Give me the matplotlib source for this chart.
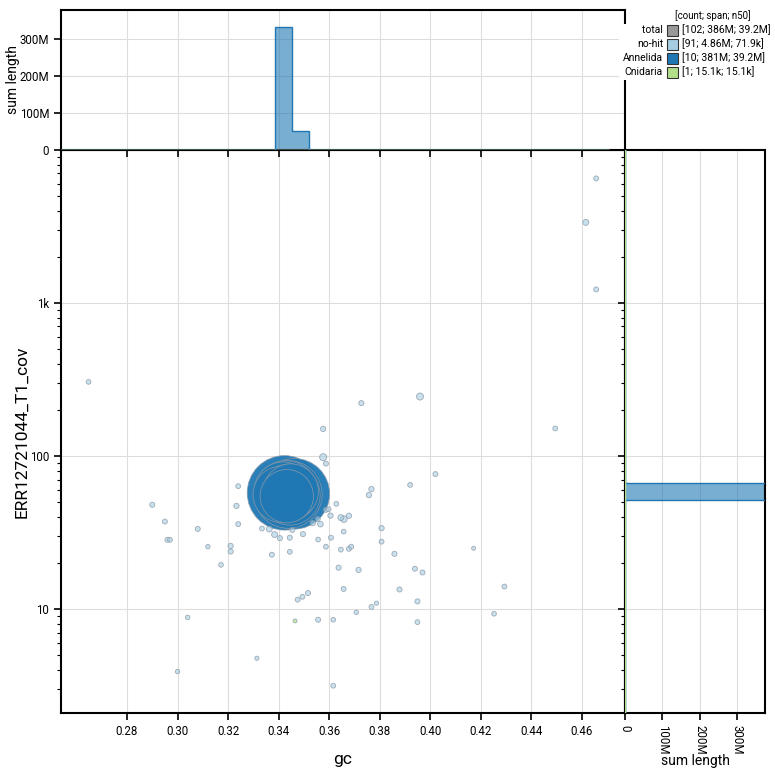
import numpy as np
import matplotlib.pyplot as plt
from matplotlib.ticker import FuncFormatter, LogLocator, NullFormatter
from matplotlib.patches import Rectangle
from matplotlib.colors import to_rgba

plt.rcParams['font.family'] = ['Roboto', 'DejaVu Sans']

# no-hit records: gc, coverage, length (bp)
nohit_gc = [0.2648, 0.2900, 0.2950, 0.2960, 0.2970, 0.3080, 0.3120, 0.3210, 0.3210,
            0.3240, 0.3233, 0.3240, 0.3373, 0.3444, 0.3172, 0.3475, 0.3494, 0.3516,
            0.3040, 0.3314, 0.3000, 0.3959, 0.3727, 0.3576, 0.3576, 0.3587, 0.4020,
            0.3920, 0.3767, 0.3757, 0.3628, 0.3587, 0.3597, 0.3605, 0.3555, 0.3646,
            0.3658, 0.3678, 0.3535, 0.3565, 0.3496, 0.3556, 0.3607, 0.3657, 0.3807,
            0.3807, 0.3587, 0.3646, 0.3678, 0.3687, 0.3858, 0.4171, 0.3637, 0.3716,
            0.3657, 0.3939, 0.3969, 0.3878, 0.3949, 0.4293, 0.4252, 0.3767, 0.3787,
            0.3707, 0.3556, 0.3616, 0.3949, 0.3616, 0.4494, 0.4656, 0.4615, 0.4656,
            0.3334, 0.3363, 0.3384, 0.3454, 0.3405, 0.3444]
nohit_cov = [304, 47.9, 37.2, 28.3, 28.3, 33.3, 25.5, 25.8, 23.7,
             63.4, 47.1, 35.8, 22.6, 23.6, 19.4, 11.5, 12.0, 12.7,
             8.8, 4.76, 3.9, 244, 221, 150, 98, 89, 76,
             64.6, 60.6, 55.4, 48.6, 44.4, 44.8, 40.7, 38.7, 39.5,
             38.6, 40.6, 36.4, 35.8, 30.8, 28.4, 29.2, 32.0, 33.7,
             27.5, 25.5, 24.4, 24.7, 25.5, 22.9, 24.9, 18.6, 18.0,
             13.5, 18.3, 17.3, 13.4, 11.2, 14.0, 9.3, 10.3, 10.9,
             9.5, 8.5, 8.5, 8.2, 3.15, 151, 6490, 3350, 1222,
             33.5, 33.2, 30.6, 32.8, 29.0, 29.2]
nohit_len = [40e3, 60e3, 50e3, 55e3, 45e3, 55e3, 30e3, 70e3, 60e3,
             45e3, 70e3, 50e3, 55e3, 45e3, 40e3, 50e3, 45e3, 60e3,
             35e3, 20e3, 30e3, 200e3, 60e3, 70e3, 200e3, 55e3, 50e3,
             45e3, 70e3, 70e3, 45e3, 55e3, 50e3, 70e3, 45e3, 110e3,
             160e3, 70e3, 70e3, 90e3, 60e3, 40e3, 50e3, 40e3, 70e3,
             50e3, 45e3, 45e3, 50e3, 50e3, 60e3, 15e3, 60e3, 70e3,
             50e3, 50e3, 55e3, 60e3, 60e3, 50e3, 40e3, 50e3, 20e3,
             30e3, 55e3, 40e3, 45e3, 45e3, 45e3, 50e3, 110e3, 50e3,
             45e3, 100e3, 110e3, 50e3, 60e3, 60e3]

# Annelida records
ann_gc = [0.3423, 0.3462, 0.3438, 0.3430, 0.3445, 0.3418, 0.3440, 0.3410, 0.3448, 0.3432]
ann_cov = [57.3, 56.5, 56.0, 58.0, 55.5, 59.0, 57.5, 56.0, 58.5, 54.5]
ann_len = [56.0e6, 50.0e6, 46.0e6, 39.2e6, 36.0e6, 33.0e6, 32.0e6, 31.0e6, 30.0e6, 27.8e6]

# Cnidaria record
cni_gc = [0.3465]
cni_cov = [8.35]
cni_len = [15.1e3]

legend_names = ['total', 'no-hit', 'Annelida', 'Cnidaria']
legend_stats = ['[102; 386M; 39.2M]', '[91; 4.86M; 71.9k]', '[10; 381M; 39.2M]', '[1; 15.1k; 15.1k]']
legend_colors = ['#999999', '#a6cee3', '#1f78b4', '#b2df8a']

groups = [
    ('no-hit', nohit_gc, nohit_cov, nohit_len, '#a6cee3', 0.6),
    ('Annelida', ann_gc, ann_cov, ann_len, '#1f78b4', 0.95),
    ('Cnidaria', cni_gc, cni_cov, cni_len, '#b2df8a', 0.7),
]


def marker_area(length):
    d = 0.0069 * np.sqrt(length) + 2.0
    return d ** 2


def fmt_len(v, pos):
    if v == 0:
        return '0'
    return '%dM' % round(v / 1e6)


def fmt_cov(v, pos):
    if v >= 1000:
        return '%dk' % round(v / 1000)
    if v in (10, 100):
        return '%d' % v
    return ''


fig = plt.figure(figsize=(7.75, 7.75), dpi=100)
L, R, B, T = 61 / 775, 625 / 775, 62 / 775, 625 / 775
TOP, RIGHT = 765 / 775, 765 / 775
ax = fig.add_axes([L, B, R - L, T - B])
axt = fig.add_axes([L, T, R - L, TOP - T], sharex=ax)
axr = fig.add_axes([R, B, RIGHT - R, T - B], sharey=ax)

# scatter, largest drawn first
all_gc, all_cov, all_len, all_col = [], [], [], []
for name, g, c, l, col, a in groups:
    all_gc += g
    all_cov += c
    all_len += l
    all_col += [to_rgba(col, a)] * len(g)
order = np.argsort(all_len)[::-1]
gc_arr = np.array(all_gc)[order]
cov_arr = np.array(all_cov)[order]
len_arr = np.array(all_len)[order]
col_arr = np.array(all_col)[order]
ax.scatter(gc_arr, cov_arr, s=marker_area(len_arr), c=col_arr,
           edgecolors=(0.55, 0.6, 0.65, 0.8), linewidths=0.6, zorder=3)

ax.set_yscale('log')
ax.set_xlim(0.2539, 0.477)
ax.set_ylim(2.09, 9950)
ax.set_xticks(np.arange(0.28, 0.47, 0.02))
ax.xaxis.set_major_formatter(FuncFormatter(lambda v, p: '%.2f' % v))
ax.yaxis.set_major_locator(LogLocator(base=10, numticks=10))
ax.yaxis.set_minor_locator(LogLocator(base=10, subs=np.arange(2, 10), numticks=10))
ax.yaxis.set_major_formatter(FuncFormatter(fmt_cov))
ax.yaxis.set_minor_formatter(NullFormatter())
ax.grid(True, which='major', color='#dddddd', linewidth=0.8)
ax.set_axisbelow(True)
ax.set_xlabel('gc', fontsize=12.5, labelpad=10)
ax.set_ylabel('ERR12721044_T1_cov', fontsize=12.5, labelpad=0)

# top histogram (gc, weighted by length)
gc_bins = 0.3387 + 0.0066 * np.arange(-14, 21)
for name, g, c, l, col, a in groups:
    axt.hist(g, bins=gc_bins, weights=l, histtype='stepfilled',
             facecolor=col, alpha=0.6, zorder=2)
    axt.hist(g, bins=gc_bins, weights=l, histtype='step',
             edgecolor=col, linewidth=1.0, zorder=3)
axt.set_ylim(0, 378e6)
axt.set_yticks([0, 100e6, 200e6, 300e6])
axt.yaxis.set_major_formatter(FuncFormatter(fmt_len))
axt.set_ylabel('sum length', fontsize=10, labelpad=0)
axt.tick_params(axis='x', labelbottom=False)
axt.grid(True, color='#dddddd', linewidth=0.8)
axt.set_axisbelow(True)

# right histogram (log coverage, weighted by length)
cov_bins = 10 ** (1.712 + 0.112 * np.arange(-13, 22))
for name, g, c, l, col, a in groups:
    axr.hist(c, bins=cov_bins, weights=l, orientation='horizontal', histtype='stepfilled',
             facecolor=col, alpha=0.6, zorder=2)
    axr.hist(c, bins=cov_bins, weights=l, orientation='horizontal', histtype='step',
             edgecolor=col, linewidth=1.0, zorder=3)
axr.set_xlim(0, 375e6)
axr.set_xticks([0, 100e6, 200e6, 300e6])
axr.xaxis.set_major_formatter(FuncFormatter(fmt_len))
axr.tick_params(axis='x', labelrotation=-90)
axr.tick_params(axis='y', labelleft=False)
axr.set_xlabel('sum length', fontsize=10, labelpad=0)
axr.grid(True, which='major', color='#dddddd', linewidth=0.8)
axr.set_axisbelow(True)

for a in (ax, axt, axr):
    for sp in a.spines.values():
        sp.set_linewidth(1.5)
        sp.set_color('black')
    a.tick_params(which='major', length=5, width=1.2, labelsize=8.3, color='black')
    a.tick_params(which='minor', length=3, width=0.8)

# legend, on a white box over the corner
fig.patches.append(Rectangle((619 / 775, 1 - 80 / 775), 156 / 775, 56 / 775,
                             transform=fig.transFigure, facecolor='white',
                             edgecolor='none', zorder=2))
fig.text(713 / 775, 1 - 16 / 775, '[count; span; n50]', fontsize=7, ha='center', va='center')
for i, (name, stat, col) in enumerate(zip(legend_names, legend_stats, legend_colors)):
    yc = 1 - (30 + 14 * i) / 775
    fig.text(663 / 775, yc, name, fontsize=7.5, ha='right', va='center', zorder=4)
    fig.patches.append(Rectangle((667 / 775, yc - 5.5 / 775), 11 / 775, 11 / 775,
                                 transform=fig.transFigure, facecolor=col,
                                 edgecolor='#333333', linewidth=0.8, zorder=3))
    fig.text(682 / 775, yc, stat, fontsize=7.5, ha='left', va='center', zorder=4)

fig.savefig('out.png', dpi=100)
